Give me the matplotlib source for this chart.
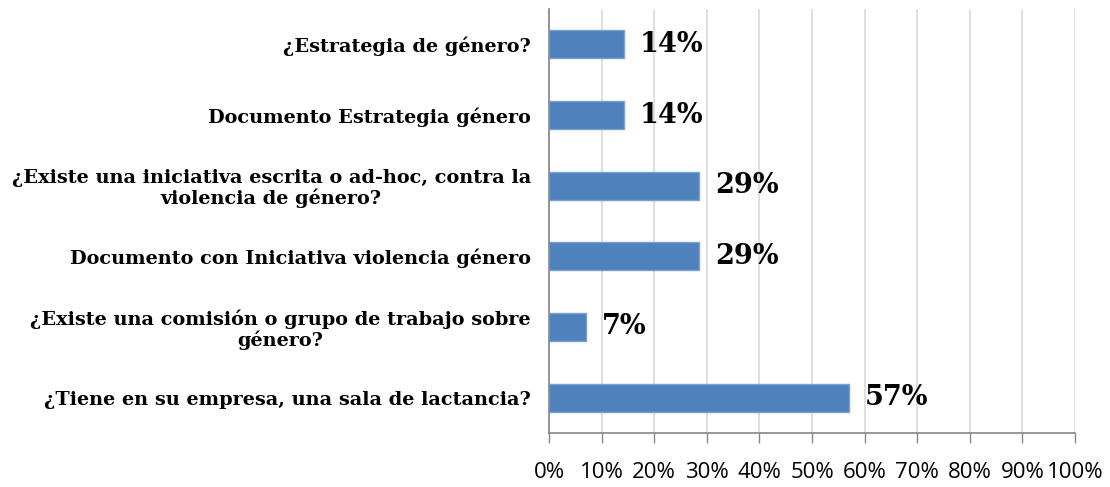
import matplotlib
matplotlib.use("Agg")
import matplotlib.pyplot as plt
from matplotlib.ticker import MultipleLocator, FuncFormatter

categories = [
    "¿Estrategia de género?",
    "Documento Estrategia género",
    "¿Existe una iniciativa escrita o ad-hoc, contra la\nviolencia de género?",
    "Documento con Iniciativa violencia género",
    "¿Existe una comisión o grupo de trabajo sobre\ngénero?",
    "¿Tiene en su empresa, una sala de lactancia?",
]
values = [0.143, 0.143, 0.286, 0.286, 0.071, 0.571]
value_labels = ["14%", "14%", "29%", "29%", "7%", "57%"]

fig = plt.figure(figsize=(11.1, 4.87), dpi=100)
ax = fig.add_axes([549/1110, 1-433/487, (1075-549)/1110, (433-9)/487])

ypos = list(range(len(categories)))[::-1]
ax.barh(ypos, values, height=0.4, color="#4F81BD", edgecolor="#7BA1D0", linewidth=1, zorder=3)
ax.set_xlim(0, 1)
ax.set_ylim(-0.5, len(categories) - 0.5)
ax.set_yticks(ypos)
ax.set_yticklabels(categories, fontfamily="DejaVu Serif", fontweight="bold",
                   fontsize=13.9, multialignment="center", linespacing=1.08)
ax.tick_params(axis="y", length=0, pad=13)
ax.xaxis.set_major_locator(MultipleLocator(0.1))
ax.xaxis.set_major_formatter(FuncFormatter(lambda v, p: f"{int(round(v*100))}%"))
ax.tick_params(axis="x", length=7, width=1, color="#868686", pad=14, labelsize=16)
for lab in ax.get_xticklabels():
    lab.set_fontfamily("Open Sans")
    lab.set_fontsize(16)
ax.grid(axis="x", color="#D9D9D9", linewidth=1.2, zorder=0)
for s in ["top", "right"]:
    ax.spines[s].set_visible(False)
ax.spines["left"].set_color("#868686")
ax.spines["bottom"].set_color("#868686")
ax.spines["left"].set_linewidth(1.2)
ax.spines["bottom"].set_linewidth(1.2)
ax.spines["left"].set_zorder(4)

for y, v, t in zip(ypos, values, value_labels):
    ax.text(v + 0.03, y, t, va="center", ha="left", fontfamily="DejaVu Serif",
            fontweight="bold", fontsize=19.5, zorder=5)

fig.savefig("out.png", dpi=100)
